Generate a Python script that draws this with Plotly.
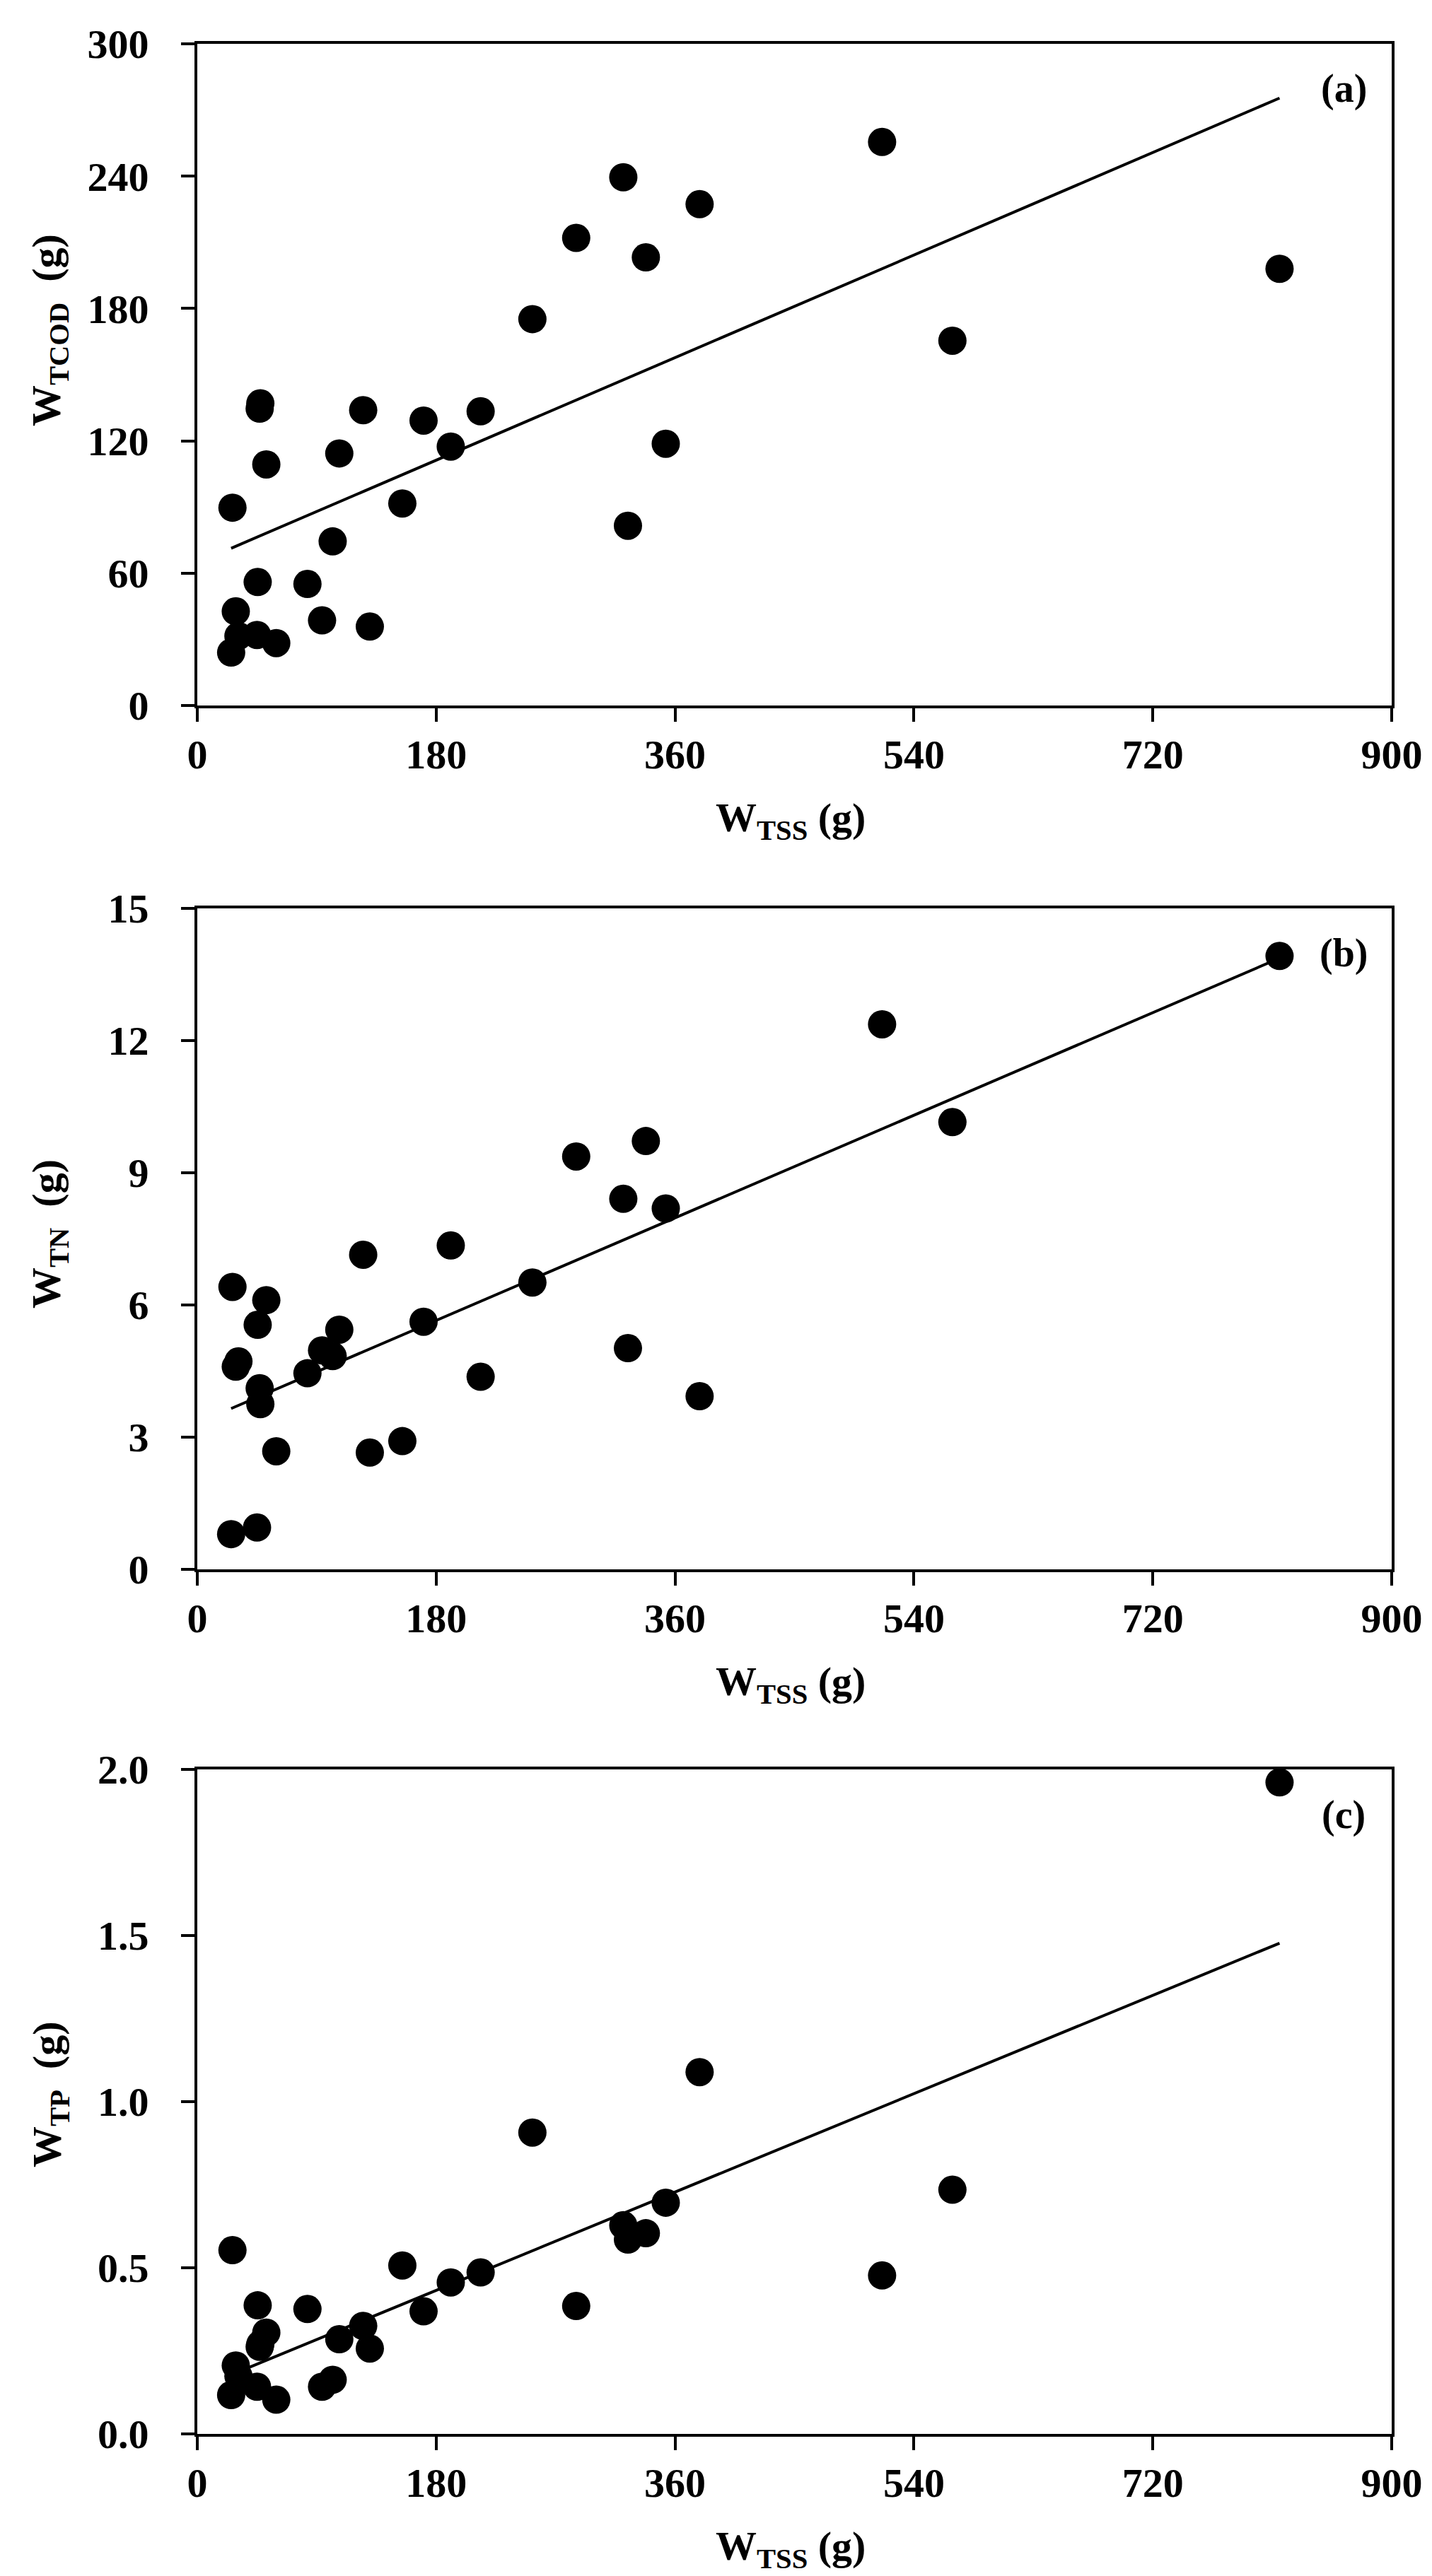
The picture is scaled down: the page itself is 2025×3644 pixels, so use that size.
import plotly.graph_objects as go

# W_TSS (g), shared by the three panels
w_tss = [25.5, 26.5, 29, 31, 45, 45.5, 47, 47.5, 52, 59.5,
         83, 94, 102, 107, 125, 130, 154.5, 170.5, 191, 213.5,
         252.5, 285.5, 321, 324.5, 338, 353, 378.5, 516, 569, 815.5]

w_tcod = [24, 89.7, 42.7, 31.5, 32, 56, 134.6, 137, 109.3, 28.3,
          55.1, 38.6, 74.4, 114.3, 133.9, 35.8, 91.6, 129.2, 117.4, 133.4,
          175.2, 212, 239.5, 81.5, 203.2, 118.7, 227.3, 255.5, 165.4, 198]

w_tn = [0.80, 6.41, 4.6, 4.72, 0.95, 5.55, 4.11, 3.75, 6.11, 2.68,
        4.45, 4.97, 4.84, 5.44, 7.14, 2.65, 2.91, 5.62, 7.35, 4.37,
        6.51, 9.37, 8.41, 5.02, 9.72, 8.19, 3.93, 12.37, 10.15, 13.92]

w_tp = [0.117, 0.553, 0.206, 0.174, 0.142, 0.387, 0.262, 0.27, 0.305, 0.103,
        0.376, 0.142, 0.163, 0.285, 0.325, 0.257, 0.507, 0.369, 0.456, 0.486,
        0.907, 0.385, 0.628, 0.585, 0.604, 0.696, 1.089, 0.477, 0.735, 1.961]

# linear trend lines (end values)
trend_x = [25.5, 815.5]
trend_tcod = [71.3, 275.4]
trend_tn = [3.65, 13.87]
trend_tp = [0.178, 1.477]

x_ticks = [0, 180, 360, 540, 720, 900]

W, H = 2025, 3644
FONT = 'Liberation Serif'

panels = [
    dict(y=w_tcod, trend=trend_tcod, yrange=[0, 300], dtick=60, fmt='', label='(a)',
         ytitle='W<sub>TCOD</sub>  (g)', px=(54, 990), ytitle_c=459),
    dict(y=w_tn, trend=trend_tn, yrange=[0, 15], dtick=3, fmt='', label='(b)',
         ytitle='W<sub>TN</sub>  (g)', px=(1277, 2212), ytitle_c=1738),
    dict(y=w_tp, trend=trend_tp, yrange=[0, 2], dtick=0.5, fmt='.1f', label='(c)',
         ytitle='W<sub>TP</sub>  (g)', px=(2495, 3435), ytitle_c=2955),
]

x_dom = [271 / W, 1960 / W]

fig = go.Figure()
annotations = []
layout = {}

for i, p in enumerate(panels):
    n = '' if i == 0 else str(i + 1)
    top, bot = p['px']
    fig.add_trace(go.Scatter(x=trend_x, y=p['trend'], mode='lines',
                             line=dict(color='black', width=4),
                             xaxis='x' + n, yaxis='y' + n, hoverinfo='skip'))
    fig.add_trace(go.Scatter(x=w_tss, y=p['y'], mode='markers',
                             marker=dict(color='black', size=40, line=dict(width=0)),
                             xaxis='x' + n, yaxis='y' + n))

    common = dict(showline=True, linecolor='black', linewidth=4, mirror=True,
                  ticks='outside', ticklen=19, tickwidth=4, tickcolor='black',
                  showgrid=False, zeroline=False, automargin=False,
                  tickfont=dict(family=FONT, size=58, color='black', weight='bold'))
    layout['xaxis' + n] = dict(common, domain=x_dom, range=[0, 900],
                               tickvals=x_ticks, anchor='y' + n,
                               ticklabelstandoff=-4)
    layout['yaxis' + n] = dict(common, domain=[(H - bot) / H, (H - top) / H],
                               range=p['yrange'], tick0=0, dtick=p['dtick'],
                               tickformat=p['fmt'], anchor='x' + n,
                               ticklabelstandoff=34)

    annotations.append(dict(text='<b>' + p['ytitle'] + '</b>', textangle=-90,
                            xref='paper', yref='paper', x=62 / W, y=(H - p['ytitle_c']) / H,
                            xanchor='center', yanchor='middle', showarrow=False,
                            font=dict(family=FONT, size=58, color='black')))
    annotations.append(dict(text='<b>W<sub>TSS</sub> (g)</b>',
                            xref='paper', yref='paper', x=1110 / W, y=(H - bot - 162) / H,
                            xanchor='center', yanchor='middle', showarrow=False,
                            font=dict(family=FONT, size=58, color='black')))
    annotations.append(dict(text='<b>' + p['label'] + '</b>',
                            xref='x' + n + ' domain', yref='y' + n + ' domain',
                            x=0.96, y=1 - 64 / (bot - top),
                            xanchor='center', yanchor='middle', showarrow=False,
                            font=dict(family=FONT, size=56, color='black')))

fig.update_layout(**layout)
fig.update_layout(width=W, height=H, showlegend=False,
                  margin=dict(l=0, r=0, t=0, b=0, autoexpand=False),
                  paper_bgcolor='white', plot_bgcolor='white',
                  annotations=annotations)

fig.write_html("out.html")
